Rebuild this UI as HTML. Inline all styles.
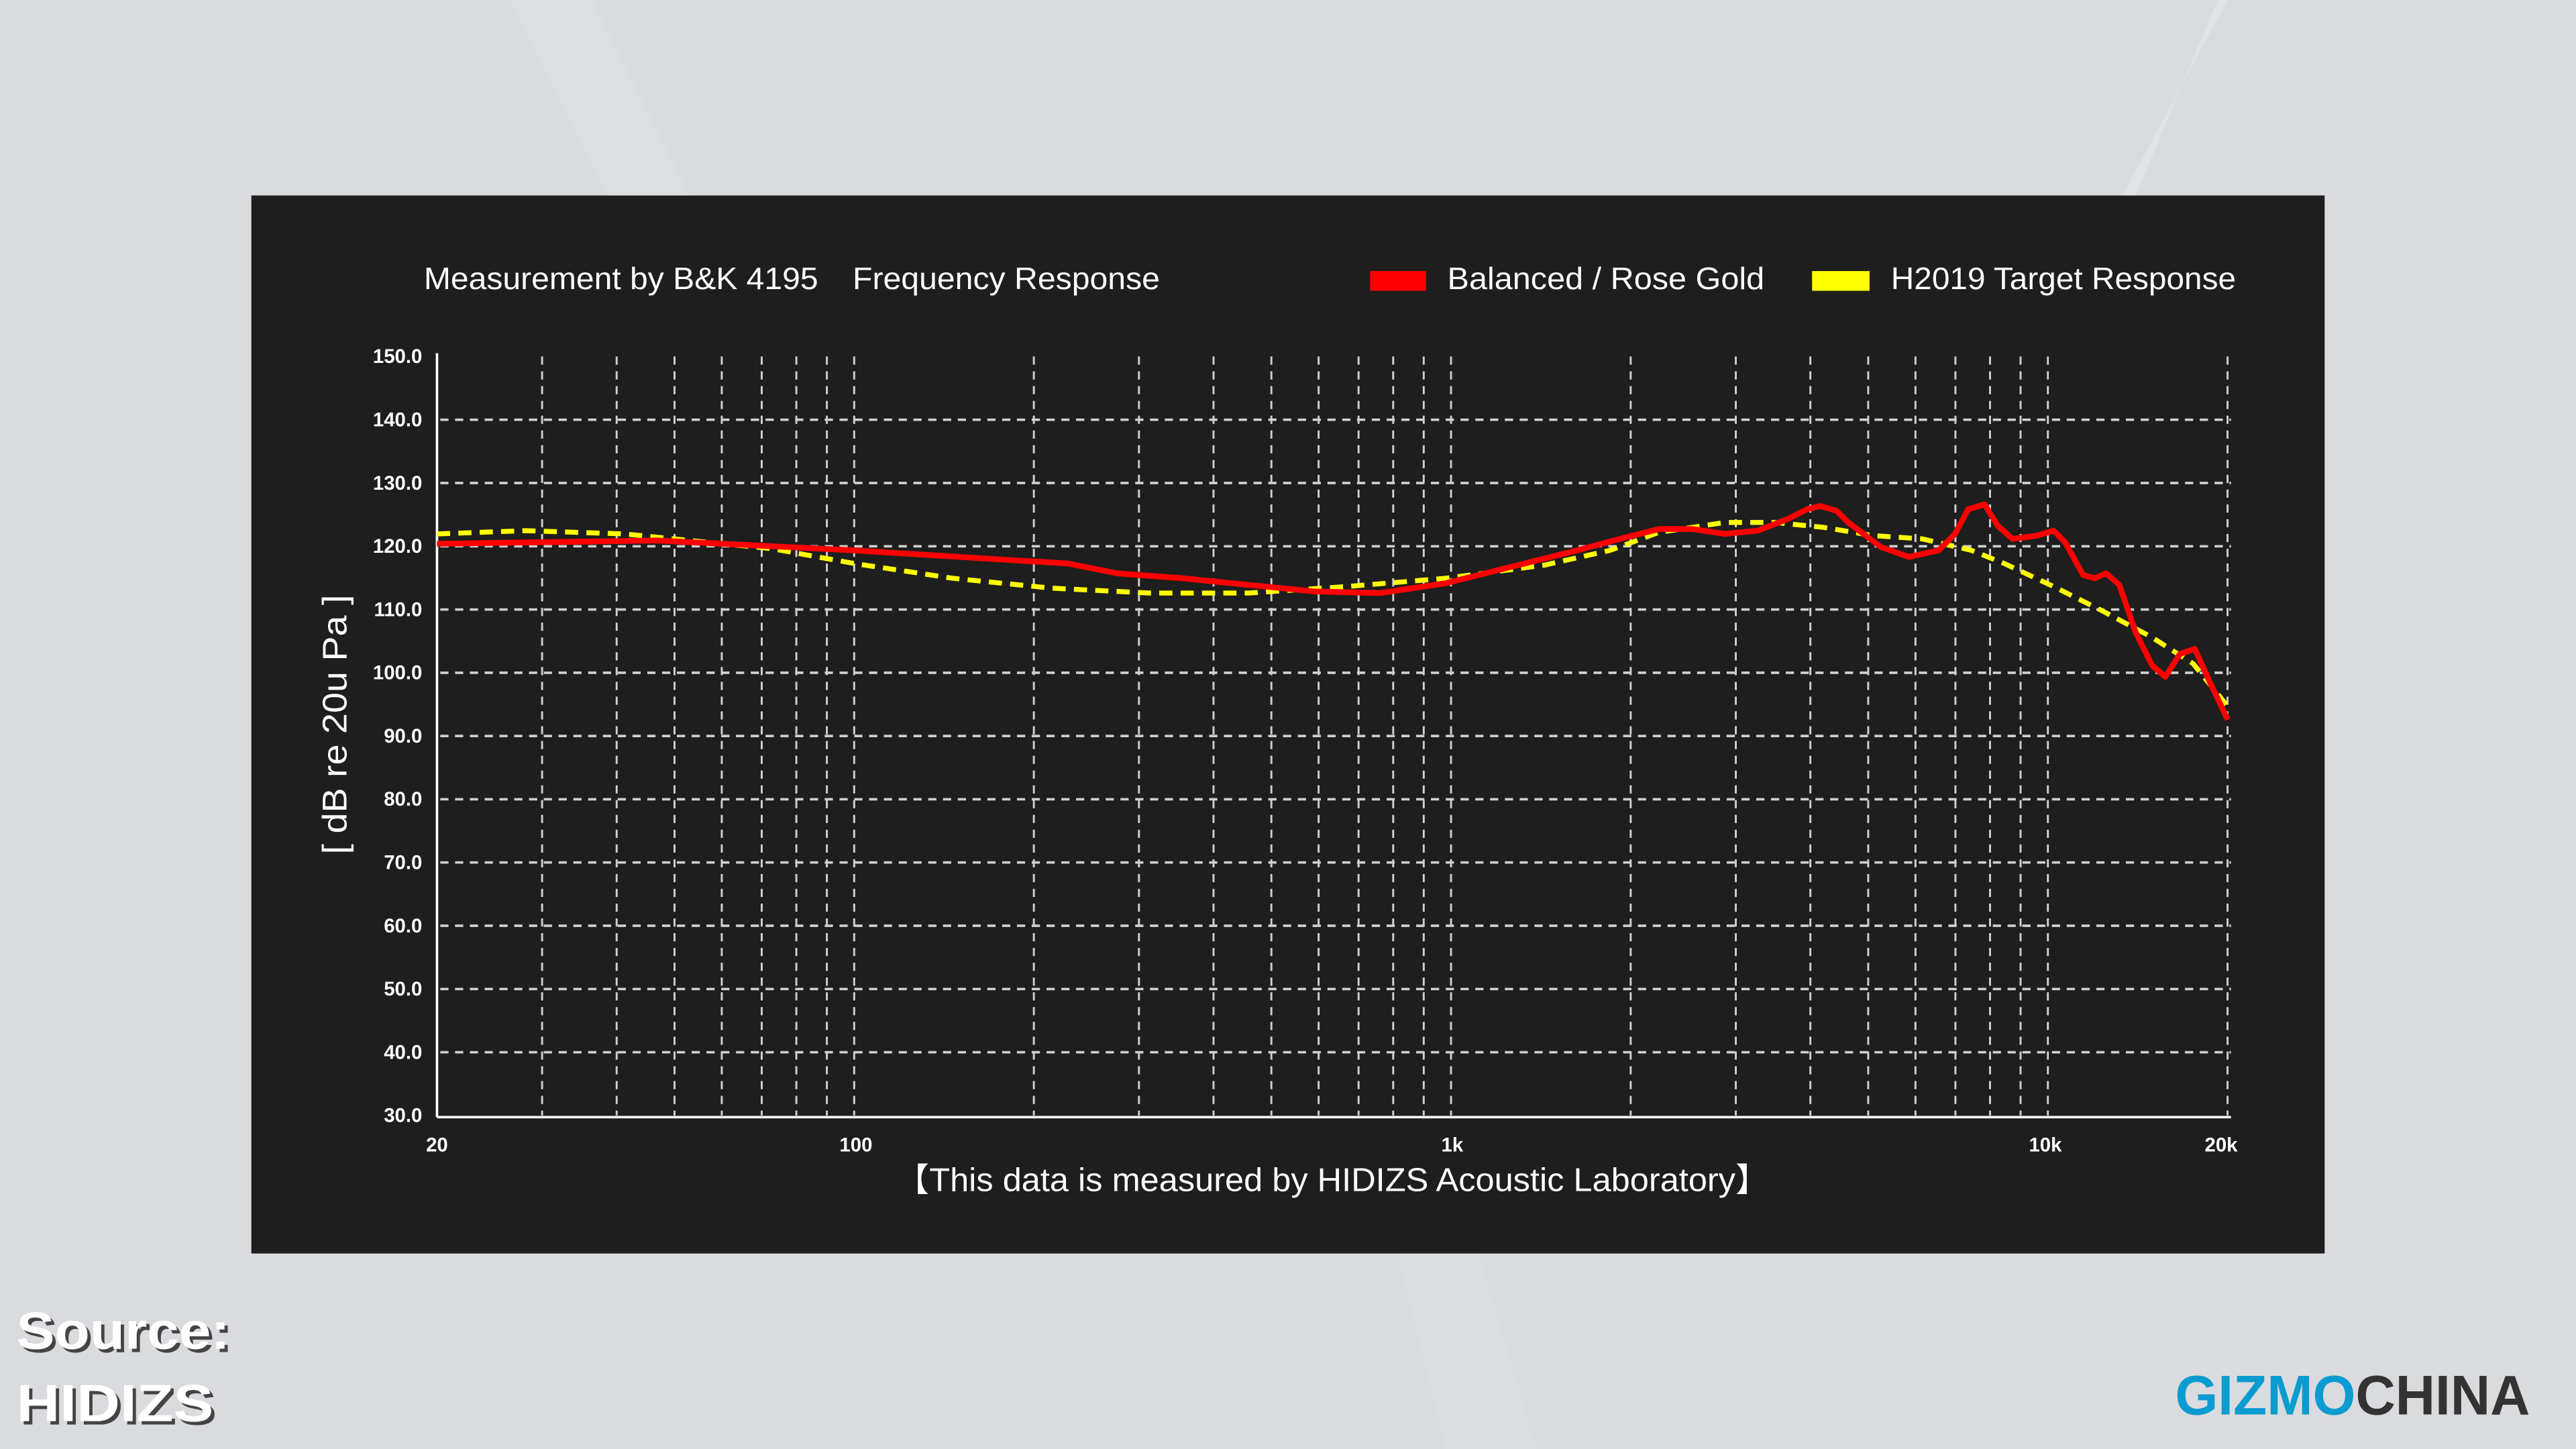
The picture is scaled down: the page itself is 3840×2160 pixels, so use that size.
<!DOCTYPE html>
<html><head><meta charset="utf-8"><style>
html,body{margin:0;padding:0;background:#dadbdf;}
svg{display:block;}
text{font-family:"Liberation Sans",sans-serif;}
</style></head><body>
<svg width="3840" height="2160" viewBox="0 0 1568 882" xmlns="http://www.w3.org/2000/svg">
<rect width="1568" height="882" fill="#dadbdf"/>
<polygon points="310,0 360,0 420,119 370,119" fill="#dddee1"/>
<polygon points="1300,119 1350,0 1356,0 1292,119" fill="#e2e3e6"/>
<polygon points="850,763 900,763 935,882 880,882" fill="#dcdde0"/>
<rect x="153" y="119" width="1262" height="644" fill="#1e1e1e"/>
<g font-size="19" fill="#fff" lengthAdjust="spacingAndGlyphs">
<text x="258" y="176" textLength="240" lengthAdjust="spacingAndGlyphs">Measurement by B&amp;K 4195</text>
<text x="519" y="176" textLength="187" lengthAdjust="spacingAndGlyphs">Frequency Response</text>
<rect x="834" y="165" width="34" height="12" fill="#ff0000"/>
<text x="881" y="176" textLength="193" lengthAdjust="spacingAndGlyphs">Balanced / Rose Gold</text>
<rect x="1103" y="165" width="35" height="12" fill="#ffff00"/>
<text x="1151" y="176" textLength="210" lengthAdjust="spacingAndGlyphs">H2019 Target Response</text>
</g>
<g id="grid" stroke="#cfcfcf" stroke-width="1.2" stroke-dasharray="5,4" fill="none"></g>
<g id="hgrid" stroke="#cfcfcf" stroke-width="1.5" stroke-dasharray="5,4" fill="none"></g>
<line x1="266" y1="215" x2="266" y2="680" stroke="#fff" stroke-width="1.5"/>
<line x1="266" y1="680" x2="1358" y2="680" stroke="#fff" stroke-width="1.5"/>
<g id="ylab" font-size="12" font-weight="bold" fill="#fff" text-anchor="end"></g>
<g font-size="12" font-weight="bold" fill="#fff" text-anchor="middle">
<text x="266" y="701">20</text><text x="521" y="701">100</text><text x="884" y="701">1k</text><text x="1245" y="701">10k</text><text x="1352" y="701">20k</text>
</g>
<text x="211" y="441" font-size="21" fill="#fff" text-anchor="middle" transform="rotate(-90 211 441)" textLength="158" lengthAdjust="spacingAndGlyphs">[ dB re 20u Pa ]</text>
<text x="545" y="725" font-size="20" fill="#fff" textLength="532" lengthAdjust="spacingAndGlyphs">【This data is measured by HIDIZS Acoustic Laboratory】</text>
<polyline fill="none" stroke="#ffff00" stroke-width="3" stroke-dasharray="8,5" points="266,325 320,323 380,325 430,330 470,334 520,343 580,352 640,358 700,361 760,361 820,357 880,352 940,344 980,335 1010,324 1050,318 1080,318 1110,321 1140,326 1170,328 1200,335 1220,343 1250,357 1280,372 1310,388 1335,404 1356,430"/>
<polyline fill="none" stroke="#ff0000" stroke-width="3.5" stroke-linejoin="round" points="266,331 400,329 460,332 520,335 600,340 650,343 680,349 720,352 760,356 800,360 840,361 880,355 920,345 960,335 990,327 1010,322 1030,322 1050,325 1070,323 1088,316 1100,310 1108,308 1118,311 1125,318 1145,333 1162,339 1180,335 1190,325 1198,310 1208,307 1216,320 1225,328 1240,326 1250,323 1257,330 1268,350 1275,352 1282,349 1290,356 1300,385 1310,405 1318,412 1327,398 1336,395 1345,415 1356,438"/>
<g font-weight="bold" font-size="32" fill="#fff">
<text x="12" y="823" fill="#444" textLength="130" lengthAdjust="spacingAndGlyphs">Source:</text><text x="10" y="821" textLength="130" lengthAdjust="spacingAndGlyphs">Source:</text>
<text x="12" y="867" fill="#444" textLength="120" lengthAdjust="spacingAndGlyphs">HIDIZS</text><text x="10" y="865" textLength="120" lengthAdjust="spacingAndGlyphs">HIDIZS</text>
</g>
<text x="1540" y="861" font-size="34" font-weight="bold" text-anchor="end" textLength="216" lengthAdjust="spacingAndGlyphs"><tspan fill="#0a9bd0">GIZMO</tspan><tspan fill="#333">CHINA</tspan></text>
<script>
(function(){
var ns="http://www.w3.org/2000/svg";
function X(f){return 266+363.3*Math.log10(f/20);}
function Y(d){return 217+(150-d)*3.85;}
var g=document.getElementById("grid");
var fs=[30,40,50,60,70,80,90,100,200,300,400,500,600,700,800,900,1000,2000,3000,4000,5000,6000,7000,8000,9000,10000,20000];
fs.forEach(function(f){var l=document.createElementNS(ns,"line");var x=X(f);l.setAttribute("x1",x);l.setAttribute("x2",x);l.setAttribute("y1",217);l.setAttribute("y2",679);g.appendChild(l);});
var h=document.getElementById("hgrid"),yl=document.getElementById("ylab");
for(var d=30;d<=150;d+=10){
 if(d>30&&d<150){var l=document.createElementNS(ns,"line");l.setAttribute("x1",268);l.setAttribute("x2",1358);l.setAttribute("y1",Y(d));l.setAttribute("y2",Y(d));h.appendChild(l);}
 var t=document.createElementNS(ns,"text");t.setAttribute("x",257);t.setAttribute("y",Y(d)+4);t.textContent=d.toFixed(1);yl.appendChild(t);
}
})();
</script>
</svg>
</body></html>
